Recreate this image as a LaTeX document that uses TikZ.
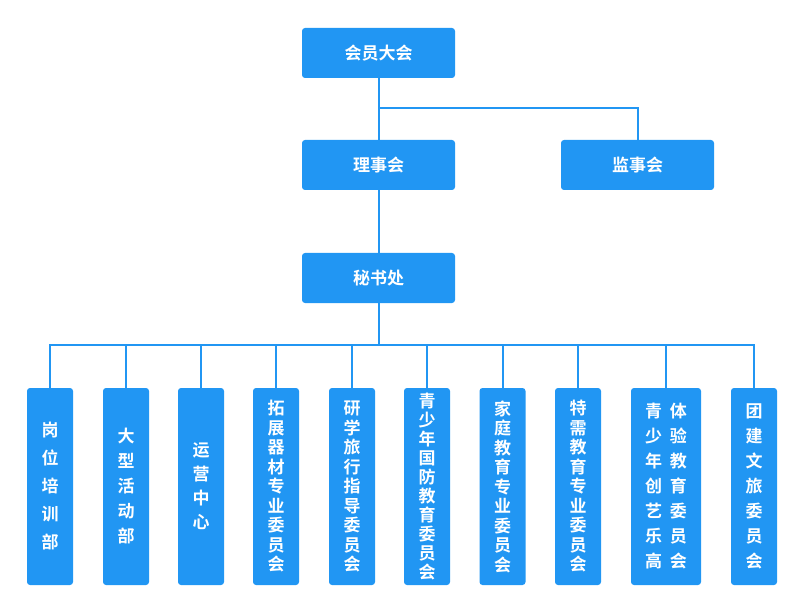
\documentclass[tikz,border=0pt]{standalone}
\usepackage{fontspec}
\setmainfont{Noto Sans CJK SC}[BoldFont={* Bold}]
\definecolor{bx}{HTML}{2196F3}
\begin{document}
\begin{tikzpicture}[x=1pt,y=-1pt,
  box/.style={fill=bx,rounded corners=3pt,text=white,font=\bfseries\fontsize{17}{20}\selectfont,inner sep=0pt},
  top/.style={box,minimum width=153pt,minimum height=50pt},
  col/.style={box,minimum width=46pt,minimum height=197pt,align=center},
  ln/.style={draw=bx,line width=2pt}]
\useasboundingbox (0,0) rectangle (800,612);
\node[top] (hy) at (378.5,53) {会员大会};
\node[top] (ls) at (378.5,165) {理事会};
\node[top] (js) at (637.5,165) {监事会};
\node[top] (ms) at (378.5,278) {秘书处};
\coordinate (j1) at (378.5,108);
\coordinate (j2) at (637.5,108);
\coordinate (bus) at (378.5,345);
\draw[ln] (hy) -- (ls) (j1) -| (js) (ls) -- (ms) (ms) -- (bus);
\def\pp#1#2#3#4{\node[col,minimum width=#4pt,font=\bfseries\fontsize{17}{#3}\selectfont] (#1) at (#2,486.5) {\pptext};}
\def\pptext{岗\\位\\培\\训\\部}\pp{a}{50}{28}{46}
\def\pptext{大\\型\\活\\动\\部}\pp{b}{126}{25}{46}
\def\pptext{运\\营\\中\\心}\pp{c}{201}{24}{46}
\def\pptext{拓\\展\\器\\材\\专\\业\\委\\员\\会}\pp{d}{276}{19.5}{46}
\def\pptext{研\\学\\旅\\行\\指\\导\\委\\员\\会}\pp{e}{352}{19.5}{46}
\def\pptext{青\\少\\年\\国\\防\\教\\育\\委\\员\\会}\pp{f}{427}{19}{46}
\def\pptext{家\\庭\\教\\育\\专\\业\\委\\员\\会}\pp{g}{502.5}{19.5}{46}
\def\pptext{特\\需\\教\\育\\专\\业\\委\\员\\会}\pp{h}{578}{19.5}{46}
\def\pptext{青\ \ 体\\少\ \ 验\\年\ \ 教\\创\ \ 育\\艺\ \ 委\\乐\ \ 员\\高\ \ 会}\pp{i}{666}{25}{70}
\def\pptext{团\\建\\文\\旅\\委\\员\\会}\pp{k}{754}{25}{46}
\draw[ln] (a.north) |- (bus) -| (k.north);
\foreach \n in {b,c,d,e,f,g,h,i} \draw[ln] (\n.north) -- (\n.north |- bus);
\end{tikzpicture}
\end{document}
